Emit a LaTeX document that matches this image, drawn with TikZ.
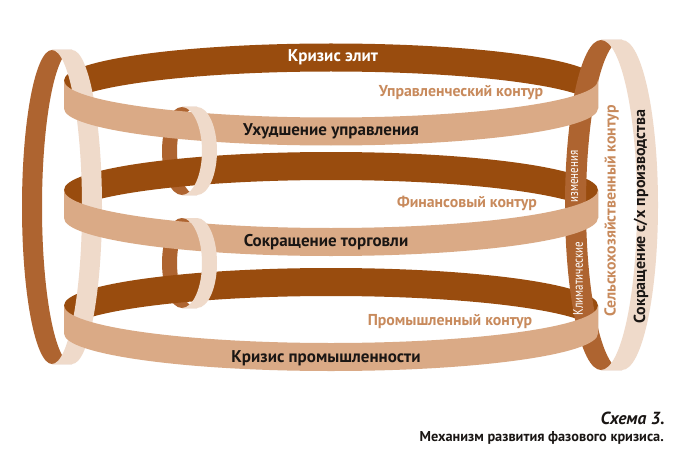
\documentclass[tikz,border=0pt]{standalone}
\usepackage{fontspec}
\setmainfont{PT Sans}
\newfontfamily\narrowfont[FakeStretch=0.78]{PT Sans}
\definecolor{backdark}{RGB}{153,76,14}
\definecolor{fronttan}{RGB}{218,170,134}
\definecolor{vback}{RGB}{174,100,48}
\definecolor{vpale}{RGB}{239,218,202}
\definecolor{labbrown}{RGB}{200,138,92}
\definecolor{labdark}{RGB}{26,22,20}
% horizontal ring halves: color, cx, cy, a, b, h
\newcommand\HRback[6]{\fill[#1] ({#2-#4},#3) arc[start angle=180,end angle=360,x radius=#4,y radius=#5] -- ++(0,#6) arc[start angle=0,end angle=-180,x radius=#4,y radius=#5] -- cycle;}
\newcommand\HRfront[6]{\fill[#1] ({#2-#4},#3) arc[start angle=180,end angle=0,x radius=#4,y radius=#5] -- ++(0,#6) arc[start angle=0,end angle=180,x radius=#4,y radius=#5] -- cycle;}
% vertical ring halves: color, cx, cy, ax, by, w
\newcommand\VRback[6]{\fill[#1] (#2,{#3+#5}) arc[start angle=90,end angle=270,x radius=#4,y radius=#5] -- ++(#6,0) arc[start angle=270,end angle=90,x radius=#4,y radius=#5] -- cycle;}
\newcommand\VRfront[6]{\fill[#1] (#2,{#3-#5}) arc[start angle=-90,end angle=90,x radius=#4,y radius=#5] -- ++(#6,0) arc[start angle=90,end angle=-90,x radius=#4,y radius=#5] -- cycle;}
\tikzset{
  blacklab/.style={text=labdark,font=\bfseries\fontsize{17}{19}\selectfont,inner sep=0pt},
  whitelab/.style={text=white,font=\bfseries\fontsize{17}{19}\selectfont,inner sep=0pt},
  brownlab/.style={text=labbrown,font=\bfseries\fontsize{15.8}{18}\selectfont,inner sep=0pt},
  narrowlab/.style={text=white,font=\narrowfont\fontsize{14}{16}\selectfont,inner sep=0pt,rotate=90},
}
\begin{document}
\begin{tikzpicture}[x=1pt,y=-1pt]
\useasboundingbox (0,0) rectangle (685,468);
\fill[white] (0,0) rectangle (685,468);
% backs of vertical rings (left)
\VRback{vback}{52}{207}{30}{157}{20}
\VRback{vback}{182}{151}{20}{44}{15}
\VRback{vback}{182}{263}{20}{45}{15}
% backs of horizontal rings
\HRback{backdark}{331}{80.5}{267}{37}{28}
\HRback{backdark}{331}{190}{267}{38}{28}
\HRback{backdark}{331}{305.5}{267}{37.5}{28}
% front of big left ring
\VRfront{vpale}{52}{207}{30}{157}{20}
% back of right ring
\VRback{vback}{601}{205}{36}{165}{21}
\node[narrowlab] (izm) at (574.5,176.5) {изменения};
\node[narrowlab] (klim) at (578,278.5) {Климатические};
% fronts of horizontal rings
\HRfront{fronttan}{331}{80.5}{267}{37}{28}
\HRfront{fronttan}{331}{190}{267}{38}{28}
\HRfront{fronttan}{331}{305.5}{267}{37.5}{28}
% fronts of small rings
\VRfront{vpale}{182}{151}{20}{44}{15}
\VRfront{vpale}{182}{263}{20}{45}{15}
% front of right ring
\VRfront{vpale}{601}{205}{36}{165}{21}
% labels
\node[whitelab] (elit) at (333,57.5) {Кризис элит};
\node[brownlab] (upr) at (461,93) {Управленческий контур};
\node[blacklab] (uhud) at (331,131.5) {Ухудшение управления};
\node[brownlab] (fin) at (467,203) {Финансовый контур};
\node[blacklab] (torg) at (326,242.5) {Сокращение торговли};
\node[brownlab] (prom) at (450,322) {Промышленный контур};
\node[blacklab] (krprom) at (326,358) {Кризис промышленности};
\node[brownlab,rotate=90] (selh) at (611.5,211) {Сельскохозяйственный контур};
\node[blacklab,font=\bfseries\fontsize{16}{18}\selectfont,rotate=90] (sokr) at (641,216.5) {Сокращение с/х производства};
\node[text=labdark,font=\bfseries\itshape\fontsize{17.5}{20}\selectfont,inner sep=0pt,anchor=east] (sch) at (665,418) {Схема 3.};
\node[text=labdark,font=\bfseries\fontsize{14.3}{17}\selectfont,inner sep=0pt,anchor=east] (cap) at (664,438) {Механизм развития фазового кризиса.};
\end{tikzpicture}
\end{document}
